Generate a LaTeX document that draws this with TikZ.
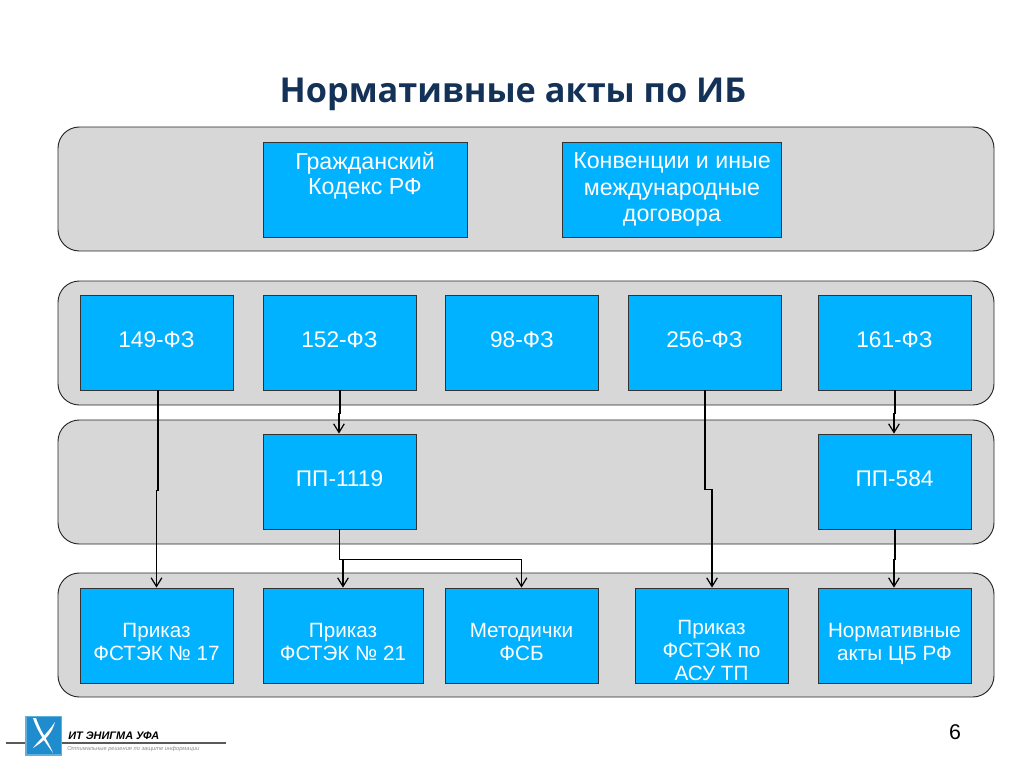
\documentclass[tikz,border=0pt]{standalone}
\usepackage{fontspec}
\setmainfont{Liberation Sans}
\newfontfamily\titlefont{Open Sans}
\usepackage{xcolor}
\usetikzlibrary{positioning, arrows.meta, calc}
\definecolor{navytext}{RGB}{20,50,88}
\definecolor{boxblue}{RGB}{0,178,255}
\definecolor{bandgray}{RGB}{215,215,215}
\definecolor{logoblue}{RGB}{30,140,205}
\newcommand{\pushed}[1]{\rule{0pt}{#1}}

\begin{document}
\begin{tikzpicture}[
  x=0.75pt, y=-0.75pt,
  band/.style={
    rectangle, rounded corners=16pt, draw=black!85, fill=bandgray, line width=0.7pt,
    minimum width=702pt, minimum height=93pt, inner sep=0pt
  },
  docbox/.style={
    rectangle, draw=black!80, fill=boxblue, text=white, line width=0.6pt,
    minimum width=114.75pt, minimum height=71.25pt, align=center, font=\fontsize{17}{20}\selectfont,
    inner sep=0pt, text depth=4pt
  },
  bigbox/.style={
    docbox, text depth={}, font=\fontsize{17.4}{19.6}\selectfont
  },
  smallbox/.style={
    docbox, text depth={}, font=\fontsize{15.5}{17.2}\selectfont
  },
  conn/.style={-{Straight Barb[length=6.5pt,width=8pt]}, line width=0.9pt, black}
]
\useasboundingbox (0,0) rectangle (1023,767);

\node[font=\titlefont\bfseries\fontsize{25.7}{30}\selectfont, text=navytext] (title) at (513,94) {Нормативные акты по ИБ};

% bands
\node[band] (band1) at (526,189) {};
\node[band] (band2) at (526,343) {};
\node[band] (band3) at (526,482) {};
\node[band] (band4) at (526,635) {};

% top row
\node[bigbox, minimum width=153pt] (gk) at (365,189.5) {Гражданский\\[-1.5pt]Кодекс РФ\\[4.5pt]\mbox{}};
\node[bigbox, minimum width=164pt] (conv) at (672,189.5) {Конвенции и иные\\международные\\договора};

% federal laws
\node[docbox] (fz149) at (156.5,342.5) {149-ФЗ};
\node[docbox, right=21.9pt of fz149] (fz152) {152-ФЗ};
\node[docbox, right=21.5pt of fz152] (fz98) {98-ФЗ};
\node[docbox, right=21.5pt of fz98] (fz256) {256-ФЗ};
\node[docbox, right=27.2pt of fz256] (fz161) {161-ФЗ};

% government decrees
\node[docbox, below=32.4pt of fz152] (pp1119) {ПП-1119};
\node[docbox, below=32.4pt of fz161] (pp584) {ПП-584};

% bottom row
\node[smallbox] (pr17) at (156.5,635.5) {\pushed{20pt}Приказ\\ФСТЭК № 17};
\node[smallbox, minimum width=120pt, right=21.9pt of pr17] (pr21) {\pushed{20pt}Приказ\\ФСТЭК № 21};
\node[smallbox, right=15.9pt of pr21] (fsb) {\pushed{20pt}Методички\\ФСБ};
\node[smallbox, right=27.15pt of fsb] (asu) {\pushed{33pt}Приказ\\ФСТЭК по\\АСУ ТП};
\node[smallbox, right=21.9pt of asu] (cb) {\pushed{24pt}Нормативные\\акты ЦБ РФ};

% connectors
\draw[conn] ([xshift=1.1pt]fz149.south) -- ++(0,100) -| (pr17.north);
\draw[conn] ([xshift=0.4pt]fz152.south) -- ++(0,23) -| ([xshift=-0.4pt]pp1119.north);
\draw[conn] ([xshift=0.4pt]fz256.south) -- ++(0,99) -| ([xshift=0.4pt]asu.north);
\draw[conn] ([xshift=0.4pt]fz161.south) -- ++(0,23) -| ([xshift=-0.4pt]pp584.north);
\draw[conn] (pp1119.south) -- ++(0,30) -| (pr21.north);
\draw[conn] (pp1119.south) -- ++(0,30) -| (fsb.north);
\draw[conn] ([xshift=0.4pt]pp584.south) -- ++(0,30) -| ([xshift=-0.4pt]cb.north);

% footer
\draw[line width=1pt, black!65] (6,743) -- (226,743);
\node[rectangle, draw=logoblue!70, fill=logoblue, line width=1pt, minimum width=26.5pt, minimum height=29pt, inner sep=0pt] (logo) at (43.5,735.5) {};
\fill[white] (36,718) .. controls (41,733) and (48,740) .. (53,753) .. controls (46,743) and (38,733) .. (33,718) -- cycle;
\fill[white] (33,748) .. controls (39,740) and (47,734) .. (55,722) .. controls (52,733) and (46,740) .. (33,748) -- cycle;
\node[font=\bfseries\itshape\fontsize{8.2}{9}\selectfont, anchor=west, inner sep=0pt] (logoname) at (68,735.5) {ИТ ЭНИГМА УФА};
\node[font=\itshape\fontsize{4.3}{5}\selectfont, text=black!45, anchor=west, inner sep=0pt] (logosub) at (67,749) {Оптимальные решения по защите информации};
\node[font=\fontsize{16}{18}\selectfont] (pagenum) at (955,732) {6};
\end{tikzpicture}
\end{document}
